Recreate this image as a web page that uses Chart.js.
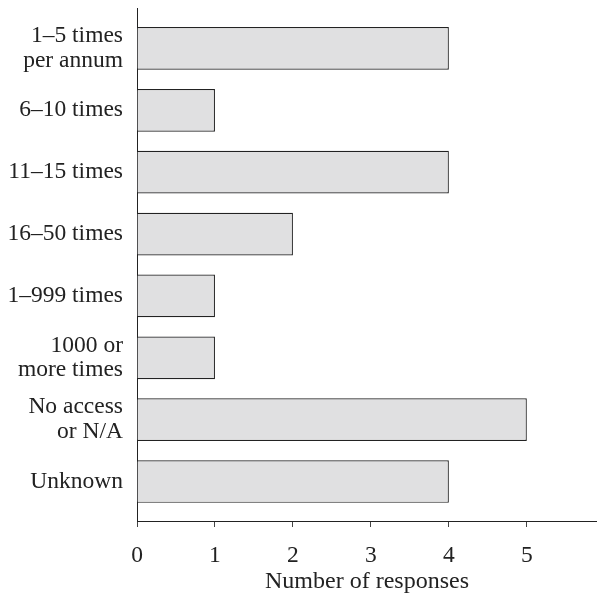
<!DOCTYPE html>
<html><head><meta charset="utf-8">
<script src="https://cdn.jsdelivr.net/npm/chart.js@4/dist/chart.umd.min.js"></script>
<style>html,body{margin:0;padding:0;background:#fff}#wrap{width:597px;height:599px}</style>
</head><body><div id="wrap"><canvas id="c" width="597" height="599"></canvas></div>
<script>
const categories = [["1–5 times","per annum"],"6–10 times","11–15 times","16–50 times","1–999 times",["1000 or","more times"],["No access","or N/A"],"Unknown"];
const responses = [4,1,4,2,1,1,5,4];
const xTicks = [0,1,2,3,4,5];
const xTitle = "Number of responses";
const FONT = "'Liberation Serif', 'Times New Roman', serif";
const points = responses.map((v, i) => ({ x: v, y: i }));
new Chart(document.getElementById('c'), {
  type: 'bar',
  data: { datasets: [{ data: points, backgroundColor: '#e0e0e1', borderColor: '#222', borderWidth: 1.2, barPercentage: 0.69, categoryPercentage: 1 }] },
  options: {
    indexAxis: 'y', responsive: false, animation: false, devicePixelRatio: 1,
    layout: { padding: { top: 8, right: 0, left: 0, bottom: 0 } },
    plugins: { legend: { display: false }, tooltip: { enabled: false } },
    scales: {
      x: { type: 'linear', min: 0, max: 5.9,
        afterBuildTicks: a => { a.ticks = xTicks.map(v => ({ value: v })); },
        afterFit: a => { a.height = 78; a.paddingLeft = 0; a.paddingRight = 0; },
        ticks: { color: '#222', font: { family: FONT, size: 23.5 }, padding: 15, maxRotation: 0 },
        grid: { drawOnChartArea: false, tickLength: 6, color: '#222', tickColor: '#444' },
        border: { color: '#222', width: 1 },
        title: { display: true, text: xTitle, color: '#222', font: { family: FONT, size: 24 }, padding: { top: 0, bottom: 3 } } },
      y: { type: 'linear', reverse: true, min: -0.654, max: 7.638, offset: false,
        afterBuildTicks: a => { a.ticks = categories.map((c, i) => ({ value: i })); },
        afterFit: a => { a.width = 137; a.paddingTop = 0; a.paddingBottom = 0; },
        ticks: { color: '#222', font: { family: FONT, size: 23.5, lineHeight: 1.05 }, padding: 14,
          callback: (v) => categories[v] },
        grid: { display: false, drawTicks: false },
        border: { color: '#222', width: 1 } }
    }
  }
});
</script></body></html>
